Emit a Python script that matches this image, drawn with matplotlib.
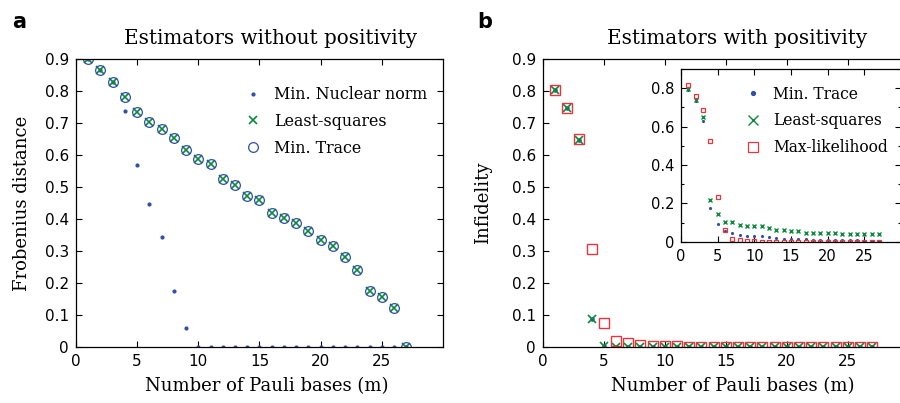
import matplotlib
matplotlib.use('Agg')
import matplotlib.pyplot as plt
from matplotlib.ticker import MultipleLocator

m = list(range(1, 28))

# panel a: estimators without positivity (Frobenius distance)
nuclear_a = [0.900, 0.866, 0.829, 0.737, 0.569, 0.446, 0.343, 0.175, 0.058,
             0, 0, 0, 0, 0, 0, 0, 0, 0, 0, 0, 0, 0, 0, 0, 0, 0, 0]
lsq_a = [0.900, 0.866, 0.829, 0.781, 0.734, 0.704, 0.681, 0.653, 0.614,
         0.586, 0.571, 0.526, 0.505, 0.473, 0.460, 0.418, 0.402, 0.386,
         0.363, 0.333, 0.316, 0.280, 0.241, 0.176, 0.156, 0.123, 0.0]
trace_a = lsq_a

# panel b: estimators with positivity (infidelity)
trace_b = [0.803, 0.746, 0.647, 0.087, 0.004, 0.001, 0.001, 0.001, 0.001,
           0, 0, 0, 0, 0, 0, 0, 0, 0, 0, 0, 0, 0, 0, 0, 0, 0, 0]
lsq_b = trace_b
ml_b = [0.803, 0.746, 0.649, 0.305, 0.075, 0.020, 0.012, 0.007, 0.004,
        0.002, 0.002, 0.001, 0.001, 0.001, 0.001, 0.001, 0.001, 0.001,
        0.001, 0.001, 0.001, 0.001, 0.001, 0.001, 0.001, 0.001, 0.001]

# inset of panel b
trace_in = [0.790, 0.733, 0.629, 0.178, 0.095, 0.057, 0.048, 0.038, 0.031,
            0.031, 0.031, 0.026, 0.022, 0.017, 0.017, 0.014, 0.012, 0.010,
            0.009, 0.009, 0.008, 0.008, 0.007, 0.007, 0.006, 0.006, 0.006]
lsq_in = [0.793, 0.740, 0.648, 0.216, 0.145, 0.105, 0.102, 0.088, 0.083,
          0.080, 0.080, 0.071, 0.064, 0.060, 0.057, 0.054, 0.047, 0.047,
          0.047, 0.045, 0.045, 0.041, 0.040, 0.040, 0.040, 0.040, 0.040]
ml_in = [0.814, 0.758, 0.688, 0.525, 0.233, 0.064, 0.017, 0.009, 0.004,
         0.002, 0.001, 0.001, 0.001, 0, 0, 0, 0, 0, 0, 0, 0, 0, 0, 0, 0, 0, 0]

blue = '#2f4fa8'
green = '#0b8a3c'
red = '#e8343c'
serif = 'DejaVu Serif'
tickfont = ['Liberation Sans Narrow', 'DejaVu Sans']

yticks = [0, 0.1, 0.2, 0.3, 0.4, 0.5, 0.6, 0.7, 0.8, 0.9]
ylabels = ['0', '0.1', '0.2', '0.3', '0.4', '0.5', '0.6', '0.7', '0.8', '0.9']
xticks = [0, 5, 10, 15, 20, 25]


def style(ax, size=11):
    ax.tick_params(direction='in', top=True, right=True, length=4, width=0.8,
                   labelsize=size, pad=5)
    ax.tick_params(which='minor', direction='in', top=True, right=True,
                   length=2.5, width=0.8)
    for lab in ax.get_xticklabels() + ax.get_yticklabels():
        lab.set_family(tickfont)
    for s in ax.spines.values():
        s.set_linewidth(0.9)


fig = plt.figure(figsize=(9, 4.03), dpi=100)

# ---- panel a
ax1 = fig.add_axes([0.0844, 0.139, 0.4078, 0.715])
ax1.plot(m, nuclear_a, '.', color=blue, ms=4, label='Min. Nuclear norm')
ax1.plot(m, lsq_a, 'x', color=green, ms=5.5, mew=1.2, label='Least-squares')
ax1.plot(m, trace_a, 'o', mfc='none', mec=blue, ms=7, mew=0.9, label='Min. Trace')
ax1.set_xlim(0, 30)
ax1.set_ylim(0, 0.9)
ax1.set_xticks(xticks)
ax1.set_yticks(yticks)
ax1.set_yticklabels(ylabels)
style(ax1)
ax1.set_xlabel('Number of Pauli bases (m)', family=serif, fontsize=13)
ax1.xaxis.set_label_coords(0.52, -0.105)
ax1.set_ylabel('Frobenius distance', family=serif, fontsize=13, labelpad=10)
ax1.set_title('Estimators without positivity', family=serif, fontsize=14.3,
              x=0.53, pad=11)
ax1.legend(loc='upper right', frameon=False, prop={'family': serif, 'size': 11.4},
           handletextpad=0.3, borderaxespad=0.6, labelspacing=0.62,
           bbox_to_anchor=(1.0, 0.96))

# ---- panel b
ax2 = fig.add_axes([0.603, 0.139, 0.4067, 0.715])
ax2.plot(m, trace_b, '.', color=blue, ms=4.5)
ax2.plot(m, lsq_b, 'x', color=green, ms=6, mew=1.2)
ax2.plot(m, ml_b, 's', mfc='none', mec=red, ms=7, mew=1.0)
ax2.set_xlim(0, 30)
ax2.set_ylim(0, 0.9)
ax2.set_xticks(xticks)
ax2.set_yticks(yticks)
ax2.set_yticklabels(ylabels)
style(ax2)
ax2.set_xlabel('Number of Pauli bases (m)', family=serif, fontsize=13)
ax2.xaxis.set_label_coords(0.52, -0.105)
ax2.set_ylabel('Infidelity', family=serif, fontsize=13, labelpad=14)
ax2.set_title('Estimators with positivity', family=serif, fontsize=14.3,
              x=0.53, pad=11)

# ---- inset
ax3 = fig.add_axes([0.7567, 0.400, 0.2444, 0.429])
ax3.plot(m, trace_in, '.', color=blue, ms=2.5, label='Min. Trace')
ax3.plot(m, lsq_in, 'x', color=green, ms=3.5, mew=1.0, label='Least-squares')
ax3.plot(m, ml_in, 's', mfc='none', mec=red, ms=3.5, mew=0.9, label='Max-likelihood')
ax3.set_xlim(0, 30)
ax3.set_ylim(0, 0.9)
ax3.set_xticks(xticks)
ax3.set_yticks([0, 0.2, 0.4, 0.6, 0.8])
ax3.set_yticklabels(['0', '0.2', '0.4', '0.6', '0.8'])
ax3.yaxis.set_minor_locator(MultipleLocator(0.1))
style(ax3, size=10.5)
ax3.legend(loc='upper right', frameon=False, prop={'family': serif, 'size': 11.2},
           handletextpad=0.3, borderaxespad=0.3, labelspacing=0.62,
           markerscale=2.2, bbox_to_anchor=(0.99, 0.965))

fig.text(0.013, 0.93, 'a', fontsize=15, fontweight='bold', family='DejaVu Sans')
fig.text(0.530, 0.93, 'b', fontsize=15, fontweight='bold', family='DejaVu Sans')

fig.savefig('out.png', dpi=100)
